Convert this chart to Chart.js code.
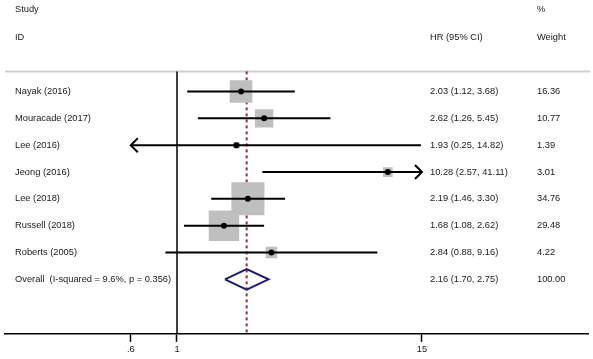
<!DOCTYPE html>
<html>
<head>
<meta charset="utf-8">
<script src="https://cdn.jsdelivr.net/npm/chart.js@4/dist/chart.umd.min.js"></script>
<style>
  html, body { margin: 0; padding: 0; background: #fff; }
  canvas { display: block; }
</style>
</head>
<body>
<canvas id="forest" width="593" height="359"></canvas>
<script>
// Study data (HR with 95% CI, % weight)
const studies = ['Nayak (2016)', 'Mouracade (2017)', 'Lee (2016)', 'Jeong (2016)', 'Lee (2018)', 'Russell (2018)', 'Roberts (2005)'];
const hr = [2.03, 2.62, 1.93, 10.28, 2.19, 1.68, 2.84];
const lower = [1.12, 1.26, 0.25, 2.57, 1.46, 1.08, 0.88];
const upper = [3.68, 5.45, 14.82, 41.11, 3.30, 2.62, 9.16];
const weights = [16.36, 10.77, 1.39, 3.01, 34.76, 29.48, 4.22];

// Pooled estimate
const overallLabel = 'Overall  (I-squared = 9.6%, p = 0.356)';
const overallHR = 2.16;
const overallLower = 1.70;
const overallUpper = 2.75;
const overallWeight = 100.00;

// Axis ticks (CI lines are clipped to this range, with arrows)
const xTicks = [0.6, 1, 15];

const rows = studies.map((s, i) => i + 1);
const overallRow = studies.length + 1;
const clipLo = xTicks[0];
const clipHi = xTicks[xTicks.length - 1];

const fmt = v => v.toFixed(2);
const FONT = '9.3px "Liberation Sans", Arial, sans-serif';
const TEXT = '#1a1a1a';

// CI line datasets, one per study
const ciSets = studies.map((s, i) => ({
    type: 'line',
    data: [
        { x: Math.max(lower[i], clipLo), y: rows[i] },
        { x: Math.min(upper[i], clipHi), y: rows[i] }
    ],
    borderColor: '#000',
    borderWidth: 2,
    pointRadius: 0,
    order: 1
}));

/**
 * Text columns, header separator and clipping arrows
 */
const forestText = {
    id: 'forestText',
    beforeDatasetsDraw(chart) {
        const { ctx, chartArea, scales: { x, y } } = chart;
        ctx.save();
        // separator under the headers
        ctx.strokeStyle = '#cfcfcf';
        ctx.lineWidth = 2;
        ctx.beginPath();
        ctx.moveTo(chartArea.left, y.getPixelForValue(0.25));
        ctx.lineTo(chartArea.right + 2, y.getPixelForValue(0.25));
        ctx.stroke();

        ctx.font = FONT;
        ctx.fillStyle = TEXT;
        ctx.textBaseline = 'middle';
        ctx.textAlign = 'left';
        const colLabel = 15, colHR = 430, colW = 537;
        ctx.fillText('Study', colLabel, y.getPixelForValue(-2.07));
        ctx.fillText('%', colW, y.getPixelForValue(-2.07));
        ctx.fillText('ID', colLabel, y.getPixelForValue(-1.02));
        ctx.fillText('HR (95% CI)', colHR, y.getPixelForValue(-1.02));
        ctx.fillText('Weight', colW, y.getPixelForValue(-1.02));

        studies.forEach((s, i) => {
            const py = y.getPixelForValue(rows[i]);
            ctx.fillText(s, colLabel, py);
            ctx.fillText(`${fmt(hr[i])} (${fmt(lower[i])}, ${fmt(upper[i])})`, colHR, py);
            ctx.fillText(fmt(weights[i]), colW, py);
        });
        const oy = y.getPixelForValue(overallRow);
        ctx.fillText(overallLabel, colLabel, oy);
        ctx.fillText(`${fmt(overallHR)} (${fmt(overallLower)}, ${fmt(overallUpper)})`, colHR, oy);
        ctx.fillText(fmt(overallWeight), colW, oy);
        ctx.restore();
    },
    afterDatasetsDraw(chart) {
        const { ctx, scales: { x, y } } = chart;
        ctx.save();
        ctx.strokeStyle = '#000';
        ctx.lineWidth = 2;
        studies.forEach((s, i) => {
            const py = y.getPixelForValue(rows[i]);
            if (lower[i] < clipLo) {
                const px = x.getPixelForValue(clipLo);
                ctx.beginPath();
                ctx.moveTo(px + 7, py - 7);
                ctx.lineTo(px, py);
                ctx.lineTo(px + 7, py + 7);
                ctx.stroke();
            }
            if (upper[i] > clipHi) {
                const px = x.getPixelForValue(clipHi);
                ctx.beginPath();
                ctx.moveTo(px - 7, py - 7);
                ctx.lineTo(px, py);
                ctx.lineTo(px - 7, py + 7);
                ctx.stroke();
            }
        });
        ctx.restore();
    }
};

new Chart(document.getElementById('forest'), {
    type: 'scatter',
    data: {
        datasets: [
            {
                // point estimates
                data: hr.map((v, i) => ({ x: v, y: rows[i] })),
                pointStyle: 'circle',
                pointRadius: 3,
                backgroundColor: '#000',
                borderWidth: 0,
                order: 0
            },
            ...ciSets,
            {
                // weight boxes
                data: hr.map((v, i) => ({ x: v, y: rows[i] })),
                pointStyle: 'rect',
                pointRadius: ctx => 3.96 * Math.sqrt(weights[ctx.dataIndex] || 0),
                backgroundColor: '#bfbfbf',
                borderWidth: 0,
                order: 2
            },
            {
                // pooled diamond
                type: 'line',
                data: [
                    { x: overallLower, y: overallRow },
                    { x: overallHR, y: overallRow - 0.38 },
                    { x: overallUpper, y: overallRow },
                    { x: overallHR, y: overallRow + 0.38 },
                    { x: overallLower, y: overallRow }
                ],
                borderColor: '#1c1c78',
                borderWidth: 2,
                pointRadius: 0,
                tension: 0,
                order: 3
            },
            {
                // pooled estimate reference (dashed)
                type: 'line',
                data: [{ x: overallHR, y: 0.25 }, { x: overallHR, y: 10.03 }],
                borderColor: '#9a2a3e',
                borderWidth: 2,
                borderDash: [3, 3],
                pointRadius: 0,
                order: 4
            },
            {
                // null line at HR = 1
                type: 'line',
                data: [{ x: 1, y: 0.25 }, { x: 1, y: 10.03 }],
                borderColor: '#000',
                borderWidth: 1.5,
                pointRadius: 0,
                order: 5
            }
        ]
    },
    options: {
        responsive: false,
        devicePixelRatio: 1,
        animation: false,
        layout: { autoPadding: false, padding: { left: 5, right: 5, top: 0, bottom: 2 } },
        plugins: {
            legend: { display: false },
            tooltip: { enabled: false }
        },
        scales: {
            x: {
                type: 'logarithmic',
                min: 0.1494,
                max: 94,
                bounds: 'data',
                afterBuildTicks: axis => {
                    axis.ticks = xTicks.map(v => ({ value: v }));
                },
                grid: {
                    drawOnChartArea: false,
                    drawTicks: true,
                    tickLength: 8,
                    tickWidth: 1.5,
                    tickColor: '#000'
                },
                border: { display: true, color: '#000', width: 1.5 },
                ticks: {
                    autoSkip: false,
                    maxRotation: 0,
                    padding: 2,
                    color: TEXT,
                    font: { family: '"Liberation Sans", Arial, sans-serif', size: 9.3 },
                    callback: v => (v === 0.6 ? '.6' : String(v))
                }
            },
            y: {
                type: 'linear',
                display: false,
                reverse: true,
                min: -2.41,
                max: 10.03
            }
        }
    },
    plugins: [forestText]
});
</script>
</body>
</html>
